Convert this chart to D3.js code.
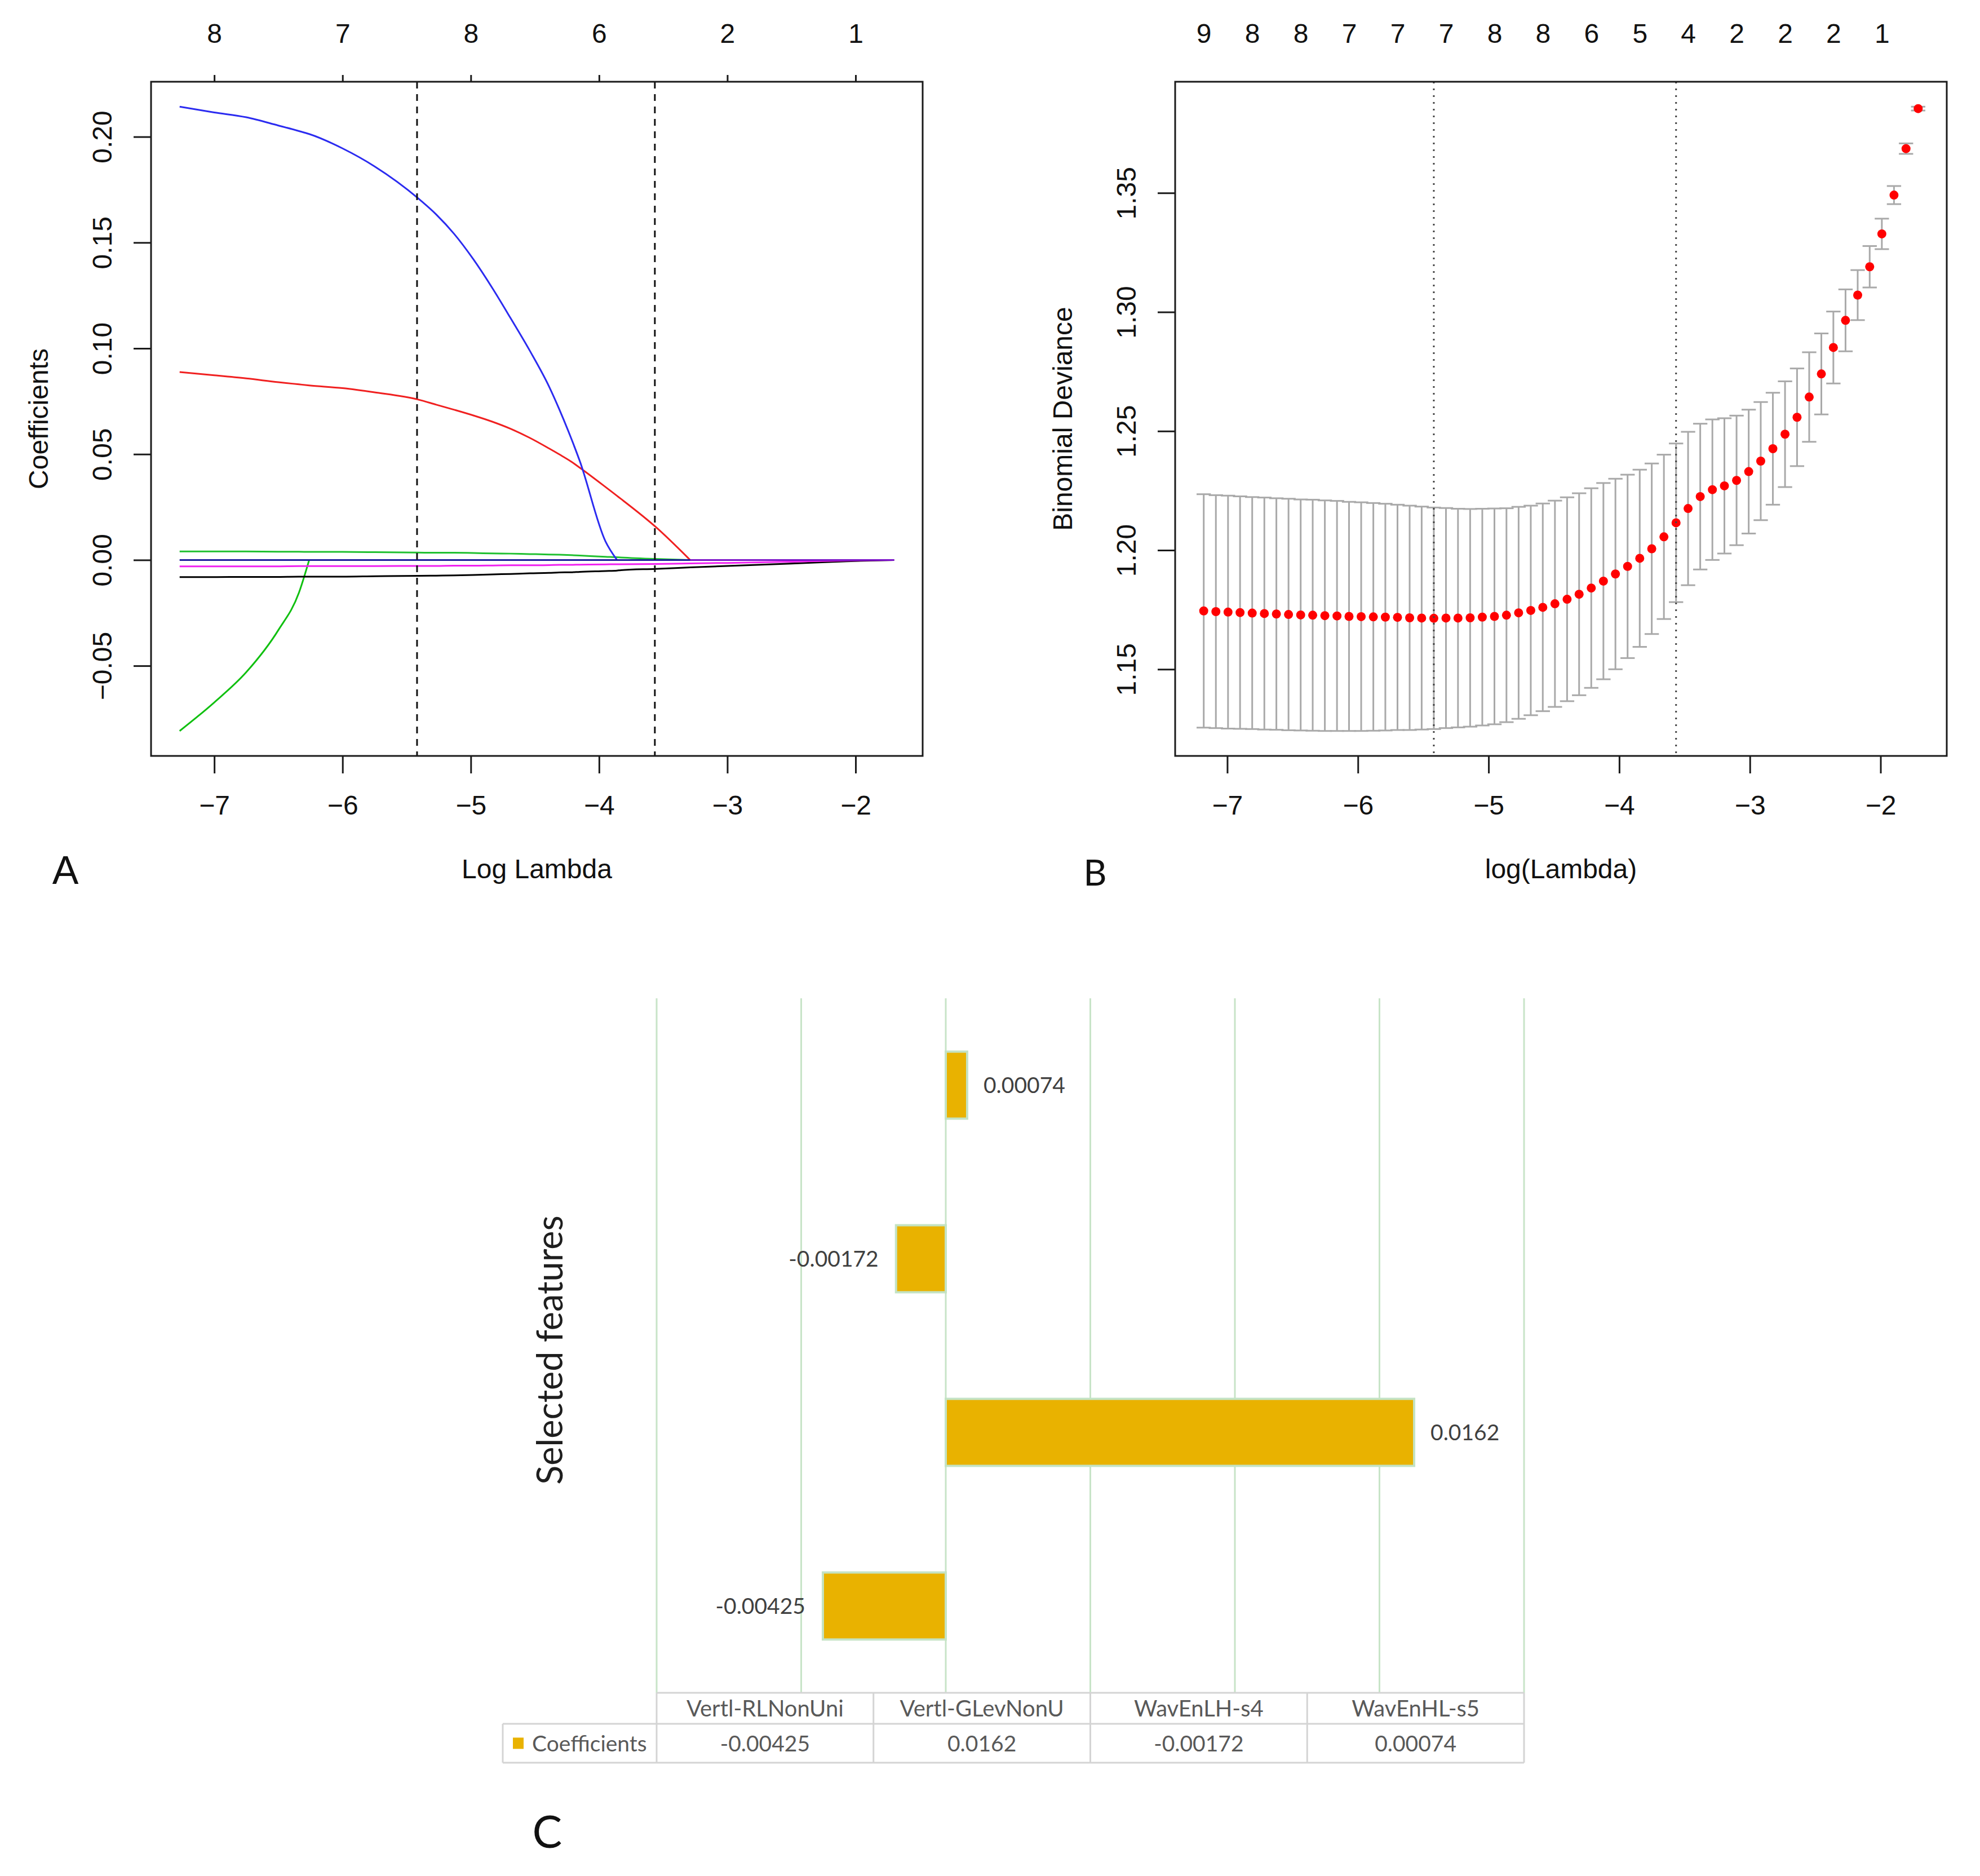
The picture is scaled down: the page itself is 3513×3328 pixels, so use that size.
<!DOCTYPE html>
<html>
<head>
<meta charset="utf-8">
<script src="https://cdn.jsdelivr.net/npm/d3@7"></script>
<style>
  html, body { margin: 0; padding: 0; background: #fff; }
  svg { display: block; }
</style>
</head>
<body>
<script>
// ================= DATA =================
// Panel A: LASSO coefficient paths (log lambda nodes and coefficient values)
const aLogLambda = [-7.27, -7.00, -6.75, -6.50, -6.34, -6.26, -6.00, -5.75, -5.41, -5.27,
  -5.13, -4.98, -4.83, -4.69, -4.54, -4.39, -4.31, -4.22, -4.15, -3.95,
  -3.86, -3.83, -3.56, -3.29, -3.00, -2.50, -2.07, -1.70];
const aGreenNeg = [-0.0808, -0.0673, -0.0530, -0.0331, -0.0155, 0, null, null, null, null,
  null, null, null, null, null, null, null, null, null, null,
  null, null, null, null, null, null, null, null];
const aGreenPos = [0.0040, 0.0040, 0.0040, 0.0039, 0.0039, 0.0038, 0.0038, 0.0037, 0.0035, 0.0034,
  0.0034, 0.0033, 0.0031, 0.0030, 0.0028, 0.0026, 0.0025, 0.0023, 0.0021, 0.0015,
  0.0013, 0.0012, 0.0005, 0, null, null, null, null];
const aRed = [0.0888, 0.0873, 0.0858, 0.0840, 0.0830, 0.0825, 0.0812, 0.0792, 0.0758, 0.0734,
  0.0710, 0.0683, 0.0653, 0.0620, 0.0577, 0.0527, 0.0499, 0.0466, 0.0436, 0.0345,
  0.0303, 0.0289, 0.0157, 0, null, null, null, null];
const aBlue = [0.2142, 0.2115, 0.2092, 0.2053, 0.2027, 0.2013, 0.1945, 0.1860, 0.1709, 0.1633,
  0.1541, 0.1421, 0.1283, 0.1143, 0.0989, 0.0820, 0.0712, 0.0579, 0.0467, 0.0088,
  0, null, null, null, null, null, null, null];
const aBlack = [-0.0081, -0.0081, -0.0080, -0.0080, -0.0079, -0.0079, -0.0079, -0.0077, -0.0075, -0.0074,
  -0.0073, -0.0071, -0.0068, -0.0066, -0.0063, -0.0061, -0.0059, -0.0058, -0.0056, -0.0052,
  -0.0050, -0.0048, -0.0042, -0.0035, -0.0028, -0.0017, -0.0006, 0];
const aMagenta = [-0.0030, -0.0030, -0.0030, -0.0030, -0.0029, -0.0029, -0.0029, -0.0029, -0.0028, -0.0028,
  -0.0027, -0.0027, -0.0026, -0.0025, -0.0025, -0.0024, -0.0023, -0.0023, -0.0022, -0.0021,
  -0.0020, -0.0020, -0.0019, -0.0016, -0.0014, -0.0008, -0.0002, 0];
const aNavy = [0, 0, 0, 0, 0, 0, 0, 0, 0, 0, 0, 0, 0, 0, 0, 0, 0, 0, 0, 0, 0, 0, 0, 0, 0, 0, 0, 0];
const aPurple = [null, null, null, null, null, null, null, null, null, null,
  null, null, null, null, null, null, null, null, null, null,
  null, null, null, 0, 0, 0, 0, 0];
const aSeriesColors = ["#10c010", "#20c030", "#f02020", "#2b2bf0", "#000000", "#f020f0", "#1c1c9c", "#7a10c8"];
const aTopTicks = [-7, -6, -5, -4, -3, -2];
const aTopLabels = ["8", "7", "8", "6", "2", "1"];
const aYTicks = [-0.05, 0.00, 0.05, 0.10, 0.15, 0.20];
const xTicksAB = [-7, -6, -5, -4, -3, -2];

// Cross-validation lambdas (log scale)
const lambdaMin = -5.419;
const lambda1se = -3.565;

// Panel B: CV binomial deviance
const bLogLambda = [-7.180, -7.087, -6.994, -6.902, -6.809, -6.716, -6.624, -6.531, -6.438, -6.346,
  -6.253, -6.160, -6.068, -5.975, -5.882, -5.790, -5.697, -5.604, -5.512, -5.419,
  -5.326, -5.234, -5.141, -5.048, -4.955, -4.863, -4.770, -4.677, -4.585, -4.492,
  -4.399, -4.307, -4.214, -4.121, -4.029, -3.936, -3.843, -3.751, -3.658, -3.565,
  -3.473, -3.380, -3.287, -3.195, -3.102, -3.009, -2.917, -2.824, -2.731, -2.639,
  -2.546, -2.453, -2.361, -2.268, -2.175, -2.083, -1.990, -1.897, -1.805, -1.712];
const bCvm = [1.1745, 1.1742, 1.1740, 1.1738, 1.1736, 1.1734, 1.1732, 1.1730, 1.1728, 1.1727,
  1.1725, 1.1724, 1.1722, 1.1721, 1.1720, 1.1719, 1.1718, 1.1716, 1.1715, 1.1714,
  1.1715, 1.1715, 1.1716, 1.1719, 1.1722, 1.1727, 1.1737, 1.1747, 1.1760, 1.1775,
  1.1794, 1.1815, 1.1841, 1.1870, 1.1900, 1.1932, 1.1966, 1.2006, 1.2056, 1.2115,
  1.2175, 1.2225, 1.2254, 1.2270, 1.2293, 1.2330, 1.2374, 1.2426, 1.2487, 1.2558,
  1.2643, 1.2740, 1.2851, 1.2965, 1.3071, 1.3190, 1.3328, 1.3491, 1.3686, 1.3854];
const bCvsd = [0.0490, 0.0489, 0.0489, 0.0488, 0.0487, 0.0487, 0.0486, 0.0486, 0.0485, 0.0485,
  0.0484, 0.0483, 0.0481, 0.0480, 0.0478, 0.0476, 0.0473, 0.0471, 0.0468, 0.0465,
  0.0462, 0.0459, 0.0457, 0.0455, 0.0453, 0.0449, 0.0445, 0.0440, 0.0436, 0.0433,
  0.0428, 0.0424, 0.0419, 0.0412, 0.0400, 0.0385, 0.0372, 0.0358, 0.0345, 0.0333,
  0.0322, 0.0306, 0.0295, 0.0284, 0.0272, 0.0260, 0.0248, 0.0235, 0.0222, 0.0205,
  0.0188, 0.0170, 0.0151, 0.0130, 0.0105, 0.0087, 0.0064, 0.0038, 0.0022, 0.0008];
const bTopLabels = ["9", "8", "8", "7", "7", "7", "8", "8", "6", "5", "4", "2", "2", "2", "1"];
const bYTicks = [1.15, 1.20, 1.25, 1.30, 1.35];

// Panel C: selected features
const cCategories = ["Vertl-RLNonUni", "Vertl-GLevNonU", "WavEnLH-s4", "WavEnHL-s5"];
const cCoefficients = [-0.00425, 0.0162, -0.00172, 0.00074];
const cValueDomain = [-0.01, 0.02];
const cSeriesName = "Coefficients";

// ================= DRAWING =================
const W = 3513, H = 3328;
const svg = d3.select("body").append("svg").attr("width", W).attr("height", H)
  .attr("viewBox", `0 0 ${W} ${H}`);
svg.append("rect").attr("width", W).attr("height", H).attr("fill", "#fff");

const RFONT = "'Liberation Sans', Arial, Helvetica, sans-serif";
const XFONT = "Lato, 'Open Sans', sans-serif";
const FS = 48;
const expand = ext => { const r = ext[1] - ext[0]; return [ext[0] - 0.04 * r, ext[1] + 0.04 * r]; };

function frame(g, box) {
  g.append("rect").attr("x", box.x0).attr("y", box.y0)
    .attr("width", box.x1 - box.x0).attr("height", box.y1 - box.y0)
    .attr("fill", "none").attr("stroke", "#1a1a1a").attr("stroke-width", 3);
}
function styleAxis(sel) {
  sel.select(".domain").remove();
  sel.selectAll(".tick line").attr("stroke", "#1a1a1a").attr("stroke-width", 3);
  sel.selectAll(".tick text").attr("fill", "#111").style("font-family", RFONT).style("font-size", FS + "px");
}
function leftAxisRotated(g, scale, ticks, box, fmt) {
  const ax = g.append("g").attr("transform", `translate(${box.x0},0)`)
    .call(d3.axisLeft(scale).tickValues(ticks).tickSize(31).tickFormat(fmt));
  styleAxis(ax);
  ax.selectAll(".tick text").attr("x", null).attr("dy", null)
    .attr("text-anchor", "middle").attr("transform", "translate(-70,0) rotate(-90)");
}
function bottomAxis(g, scale, box) {
  const ax = g.append("g").attr("transform", `translate(0,${box.y1})`)
    .call(d3.axisBottom(scale).tickValues(xTicksAB).tickSize(31).tickPadding(39).tickFormat(d3.format("d")));
  styleAxis(ax);
}
function titles(g, box, xt, yt) {
  g.append("text").attr("x", (box.x0 + box.x1) / 2).attr("y", 1558).attr("text-anchor", "middle")
    .style("font-family", RFONT).style("font-size", FS + "px").attr("fill", "#111").text(xt);
  g.append("text").attr("transform", `translate(${box.x0 - 183},${(box.y0 + box.y1) / 2}) rotate(-90)`)
    .attr("text-anchor", "middle")
    .style("font-family", RFONT).style("font-size", FS + "px").attr("fill", "#111").text(yt);
}

// ---------- Panel A ----------
const boxA = { x0: 268, x1: 1637, y0: 145, y1: 1341 };
const gA = svg.append("g");
const aSeries = [aGreenNeg, aGreenPos, aRed, aBlue, aBlack, aMagenta, aNavy, aPurple];
const aAll = aSeries.flat().filter(v => v !== null);
const xA = d3.scaleLinear().domain(expand(d3.extent(aLogLambda))).range([boxA.x0, boxA.x1]);
const yA = d3.scaleLinear().domain(expand(d3.extent(aAll))).range([boxA.y1, boxA.y0]);

const lineA = d3.line()
  .defined(d => d.v !== null)
  .x(d => xA(d.x)).y(d => yA(d.v))
  .curve(d3.curveMonotoneX);
aSeries.forEach((vals, k) => {
  const pts = vals.map((v, i) => ({ x: aLogLambda[i], v }));
  gA.append("path").attr("d", lineA(pts)).attr("fill", "none")
    .attr("stroke", aSeriesColors[k]).attr("stroke-width", 3);
});
[lambdaMin, lambda1se].forEach(l => {
  gA.append("line").attr("x1", xA(l)).attr("x2", xA(l)).attr("y1", boxA.y0).attr("y2", boxA.y1)
    .attr("stroke", "#111").attr("stroke-width", 3).attr("stroke-dasharray", "12,10");
});
frame(gA, boxA);
bottomAxis(gA, xA, boxA);
const axA3 = gA.append("g").attr("transform", `translate(0,${boxA.y0})`)
  .call(d3.axisTop(xA).tickValues(aTopTicks).tickSize(12).tickPadding(57).tickFormat((d, i) => aTopLabels[i]));
styleAxis(axA3);
leftAxisRotated(gA, yA, aYTicks, boxA, d3.format(".2f"));
titles(gA, boxA, "Log Lambda", "Coefficients");
gA.append("text").attr("x", 116).attr("y", 1568).attr("text-anchor", "middle")
  .style("font-family", RFONT).style("font-size", "70px").attr("fill", "#111").text("A");

// ---------- Panel B ----------
const boxB = { x0: 2085, x1: 3454, y0: 145, y1: 1341 };
const gB = svg.append("g");
const bLo = bCvm.map((m, i) => m - bCvsd[i]);
const bHi = bCvm.map((m, i) => m + bCvsd[i]);
const xB = d3.scaleLinear().domain(expand(d3.extent(bLogLambda))).range([boxB.x0, boxB.x1]);
const yB = d3.scaleLinear().domain(expand([d3.min(bLo), d3.max(bHi)])).range([boxB.y1, boxB.y0]);
const capW = 0.01 * (d3.max(bLogLambda) - d3.min(bLogLambda));
const eb = gB.append("g").attr("stroke", "#a9a9a9").attr("stroke-width", 3);
bLogLambda.forEach((l, i) => {
  eb.append("line").attr("x1", xB(l)).attr("x2", xB(l)).attr("y1", yB(bLo[i])).attr("y2", yB(bHi[i]));
  eb.append("line").attr("x1", xB(l - capW)).attr("x2", xB(l + capW)).attr("y1", yB(bHi[i])).attr("y2", yB(bHi[i]));
  eb.append("line").attr("x1", xB(l - capW)).attr("x2", xB(l + capW)).attr("y1", yB(bLo[i])).attr("y2", yB(bLo[i]));
});
gB.append("g").selectAll("circle").data(bLogLambda).join("circle")
  .attr("cx", d => xB(d)).attr("cy", (d, i) => yB(bCvm[i])).attr("r", 8).attr("fill", "#ff0000");
[lambdaMin, lambda1se].forEach(l => {
  gB.append("line").attr("x1", xB(l)).attr("x2", xB(l)).attr("y1", boxB.y0).attr("y2", boxB.y1)
    .attr("stroke", "#444").attr("stroke-width", 3).attr("stroke-dasharray", "3,9");
});
frame(gB, boxB);
bottomAxis(gB, xB, boxB);
const bTopAt = bLogLambda.filter((d, i) => i % 4 === 0);
const axB3 = gB.append("g").attr("transform", `translate(0,${boxB.y0})`)
  .call(d3.axisTop(xB).tickValues(bTopAt).tickSize(0).tickPadding(69).tickFormat((d, i) => bTopLabels[i]));
styleAxis(axB3);
leftAxisRotated(gB, yB, bYTicks, boxB, d3.format(".2f"));
titles(gB, boxB, "log(Lambda)", "Binomial Deviance");
gB.append("text").attr("x", 1943).attr("y", 1571).attr("text-anchor", "middle")
  .style("font-family", XFONT).style("font-size", "64px").attr("fill", "#111").text("B");

// ---------- Panel C ----------
const plotC = { x0: 1165, x1: 2704, y0: 1771, y1: 3003 };
const gC = svg.append("g");
const xC = d3.scaleLinear().domain(cValueDomain).range([plotC.x0, plotC.x1]);
const yC = d3.scaleBand().domain(cCategories).range([plotC.y1, plotC.y0])
  .paddingInner(0.614).paddingOuter(0.307);
gC.append("g").selectAll("line").data(xC.ticks(6)).join("line")
  .attr("x1", d => xC(d)).attr("x2", d => xC(d)).attr("y1", plotC.y0).attr("y2", plotC.y1)
  .attr("stroke", "#c8e4c8").attr("stroke-width", 3);
const barData = cCategories.map((c, i) => ({ c, v: cCoefficients[i] }));
gC.append("g").selectAll("rect").data(barData).join("rect")
  .attr("x", d => xC(Math.min(0, d.v))).attr("width", d => Math.abs(xC(d.v) - xC(0)))
  .attr("y", d => yC(d.c)).attr("height", yC.bandwidth())
  .attr("fill", "#e9b200").attr("stroke", "#c4e3c4").attr("stroke-width", 4);
gC.append("g").selectAll("text").data(barData).join("text")
  .attr("x", d => d.v >= 0 ? xC(d.v) + 29 : xC(d.v) - 31)
  .attr("y", d => yC(d.c) + yC.bandwidth() / 2 + 14)
  .attr("text-anchor", d => d.v >= 0 ? "start" : "end")
  .style("font-family", XFONT).style("font-size", "39px").attr("fill", "#404040")
  .text(d => String(d.v));

// data table
const tbl = { top: 3003, mid: 3058, bot: 3127, legX: 892 };
const colC = d3.scaleBand().domain(cCategories).range([plotC.x0, plotC.x1]);
const tg = gC.append("g").attr("stroke", "#d4d4d4").attr("stroke-width", 3);
tg.append("line").attr("x1", plotC.x0).attr("x2", plotC.x1).attr("y1", tbl.top).attr("y2", tbl.top);
tg.append("line").attr("x1", tbl.legX).attr("x2", plotC.x1).attr("y1", tbl.mid).attr("y2", tbl.mid);
tg.append("line").attr("x1", tbl.legX).attr("x2", plotC.x1).attr("y1", tbl.bot).attr("y2", tbl.bot);
tg.append("line").attr("x1", tbl.legX).attr("x2", tbl.legX).attr("y1", tbl.mid).attr("y2", tbl.bot);
cCategories.concat([null]).forEach(c => {
  const x = c === null ? plotC.x1 : colC(c);
  tg.append("line").attr("x1", x).attr("x2", x).attr("y1", tbl.top).attr("y2", tbl.bot);
});
gC.append("g").selectAll("text").data(cCategories).join("text")
  .attr("x", d => colC(d) + colC.bandwidth() / 2).attr("y", (tbl.top + tbl.mid) / 2 + 14)
  .attr("text-anchor", "middle").style("font-family", XFONT).style("font-size", "40px")
  .attr("fill", "#595959").text(d => d);
gC.append("g").selectAll("text").data(barData).join("text")
  .attr("x", d => colC(d.c) + colC.bandwidth() / 2).attr("y", (tbl.mid + tbl.bot) / 2 + 14)
  .attr("text-anchor", "middle").style("font-family", XFONT).style("font-size", "39px")
  .attr("fill", "#595959").text(d => String(d.v));
gC.append("rect").attr("x", 910).attr("y", (tbl.mid + tbl.bot) / 2 - 10).attr("width", 19).attr("height", 20)
  .attr("fill", "#e9b200");
gC.append("text").attr("x", 944).attr("y", (tbl.mid + tbl.bot) / 2 + 14)
  .style("font-family", XFONT).style("font-size", "39px").attr("fill", "#595959").text(cSeriesName);

gC.append("text").attr("transform", `translate(998,${(plotC.y0 + plotC.y1) / 2 + 8}) rotate(-90)`)
  .attr("text-anchor", "middle").style("font-family", XFONT).style("font-size", "63px")
  .attr("fill", "#1e1e1e").text("Selected features");
gC.append("text").attr("x", 971).attr("y", 3278).attr("text-anchor", "middle")
  .style("font-family", XFONT).style("font-size", "79px").attr("fill", "#111").text("C");
</script>
</body>
</html>
